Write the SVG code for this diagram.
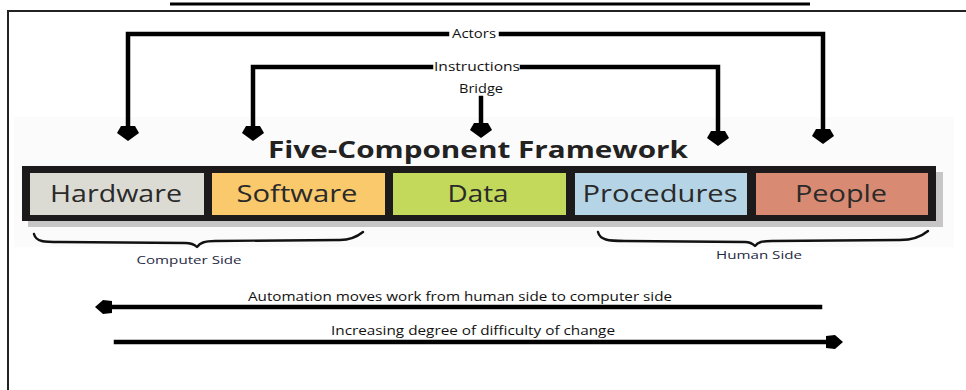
<svg xmlns="http://www.w3.org/2000/svg" width="966" height="390" viewBox="0 0 966 390">
  <style>
    .lbl { font-family: "Open Sans", "Liberation Sans", sans-serif; font-size: 12px; fill: #111; }
    .side { font-family: "Open Sans", "Liberation Sans", sans-serif; font-size: 11px; fill: #1f2a44; }
    .cell-text { font-family: "Open Sans", "Liberation Sans", sans-serif; font-size: 24px; fill: #2a2a2a; }
    .title { font-family: "Open Sans", "Liberation Sans", sans-serif; font-size: 23px; font-weight: bold; fill: #222; }
    .wire { fill: none; stroke: #000; stroke-width: 4.5; stroke-linecap: square; }
    .brace { fill: none; stroke: #111; stroke-width: 2.4; stroke-linecap: round; stroke-linejoin: round; }
    .head { fill: #000; }
  </style>
  <defs>
    <!-- downward arrowhead, tip at origin -->
    <path id="down" class="head" d="M-7,-15 L7,-15 L11,-8 L0,0 L-11,-8 Z"/>
    <!-- left-pointing arrowhead, tip at origin -->
    <path id="left" class="head" d="M0,0 L8,-7 L17,-6 L17,6 L8,7 Z"/>
    <!-- right-pointing arrowhead, tip at origin -->
    <path id="right" class="head" d="M0,0 L-8,-7 L-17,-6 L-17,6 L-8,7 Z"/>
  </defs>

  <rect x="0" y="0" width="966" height="390" fill="#fff"/>

  <!-- heading rule along the top edge -->
  <line x1="170" y1="4" x2="810" y2="4" stroke="#000" stroke-width="3"/>

  <!-- page frame -->
  <path d="M8,390 L8,11 L966,11" fill="none" stroke="#222" stroke-width="2"/>

  <!-- faint panel behind the framework bar -->
  <rect x="14" y="117" width="940" height="130" fill="#fbfbfb"/>

  <!-- connectors -->
  <g id="connectors">
    <!-- Actors bracket -->
    <path class="wire" d="M128,128 L128,34 L447,34"/>
    <path class="wire" d="M501,34 L823,34 L823,130"/>
    <use href="#down" x="128" y="141"/>
    <use href="#down" x="823" y="144"/>
    <!-- Instructions bracket -->
    <path class="wire" d="M253,128 L253,67 L431,67"/>
    <path class="wire" d="M522,67 L718,67 L718,132"/>
    <use href="#down" x="253" y="141"/>
    <use href="#down" x="718" y="146"/>
    <!-- Bridge -->
    <path class="wire" d="M481,98 L481,126"/>
    <use href="#down" x="481" y="138"/>
    <!-- bottom arrows -->
    <line class="wire" x1="110" y1="307" x2="820" y2="307" stroke-linecap="butt"/>
    <use href="#left" x="95" y="307"/>
    <line class="wire" x1="116" y1="342" x2="828" y2="342" stroke-linecap="butt"/>
    <use href="#right" x="843" y="342"/>
  </g>

  <!-- connector labels -->
  <text class="lbl" x="474" y="38" text-anchor="middle" textLength="44" lengthAdjust="spacingAndGlyphs">Actors</text>
  <text class="lbl" x="477" y="71" text-anchor="middle" textLength="86" lengthAdjust="spacingAndGlyphs">Instructions</text>
  <text class="lbl" x="481" y="93" text-anchor="middle" textLength="44" lengthAdjust="spacingAndGlyphs">Bridge</text>
  <text class="lbl" x="460" y="301" text-anchor="middle" textLength="424" lengthAdjust="spacingAndGlyphs">Automation moves work from human side to computer side</text>
  <text class="lbl" x="473" y="335" text-anchor="middle" textLength="284" lengthAdjust="spacingAndGlyphs">Increasing degree of difficulty of change</text>

  <!-- framework title -->
  <text class="title" x="268" y="158" textLength="420" lengthAdjust="spacingAndGlyphs">Five-Component Framework</text>

  <!-- framework bar: shadow and black frame -->
  <rect x="28" y="172" width="915" height="55" fill="#c6c6c6"/>
  <rect x="22" y="166" width="914" height="55" fill="#1c1a1b"/>

  <g id="hardware">
    <rect x="30" y="173" width="174" height="42" fill="#dcdbd3"/>
    <text class="cell-text" x="116" y="202" text-anchor="middle" textLength="132" lengthAdjust="spacingAndGlyphs">Hardware</text>
  </g>
  <g id="software">
    <rect x="212" y="173" width="173" height="42" fill="#fac96c"/>
    <text class="cell-text" x="297" y="202" text-anchor="middle" textLength="121" lengthAdjust="spacingAndGlyphs">Software</text>
  </g>
  <g id="data">
    <rect x="393" y="173" width="173" height="42" fill="#c3d95b"/>
    <text class="cell-text" x="478" y="202" text-anchor="middle" textLength="61" lengthAdjust="spacingAndGlyphs">Data</text>
  </g>
  <g id="procedures">
    <rect x="575" y="173" width="172" height="42" fill="#b5d5e7"/>
    <text class="cell-text" x="660" y="202" text-anchor="middle" textLength="155" lengthAdjust="spacingAndGlyphs">Procedures</text>
  </g>
  <g id="people">
    <rect x="756" y="173" width="172" height="42" fill="#d98a72"/>
    <text class="cell-text" x="841" y="202" text-anchor="middle" textLength="92" lengthAdjust="spacingAndGlyphs">People</text>
  </g>

  <!-- side braces -->
  <g id="computer-side">
    <path class="brace" d="M34,234 C36,242 44,242 60,242 L185,243 C192,243 195,245 197,247 C200,243 204,241 215,241 L340,240 C352,240 358,236 363,232"/>
    <text class="side" x="189" y="264" text-anchor="middle" textLength="105" lengthAdjust="spacingAndGlyphs">Computer Side</text>
  </g>
  <g id="human-side">
    <path class="brace" d="M598,232 C600,240 608,241 625,241 L745,242 C750,242 753,244 755,246 C758,242 762,241 772,241 L900,240 C914,240 922,236 928,231"/>
    <text class="side" x="759" y="259" text-anchor="middle" textLength="86" lengthAdjust="spacingAndGlyphs">Human Side</text>
  </g>
</svg>
